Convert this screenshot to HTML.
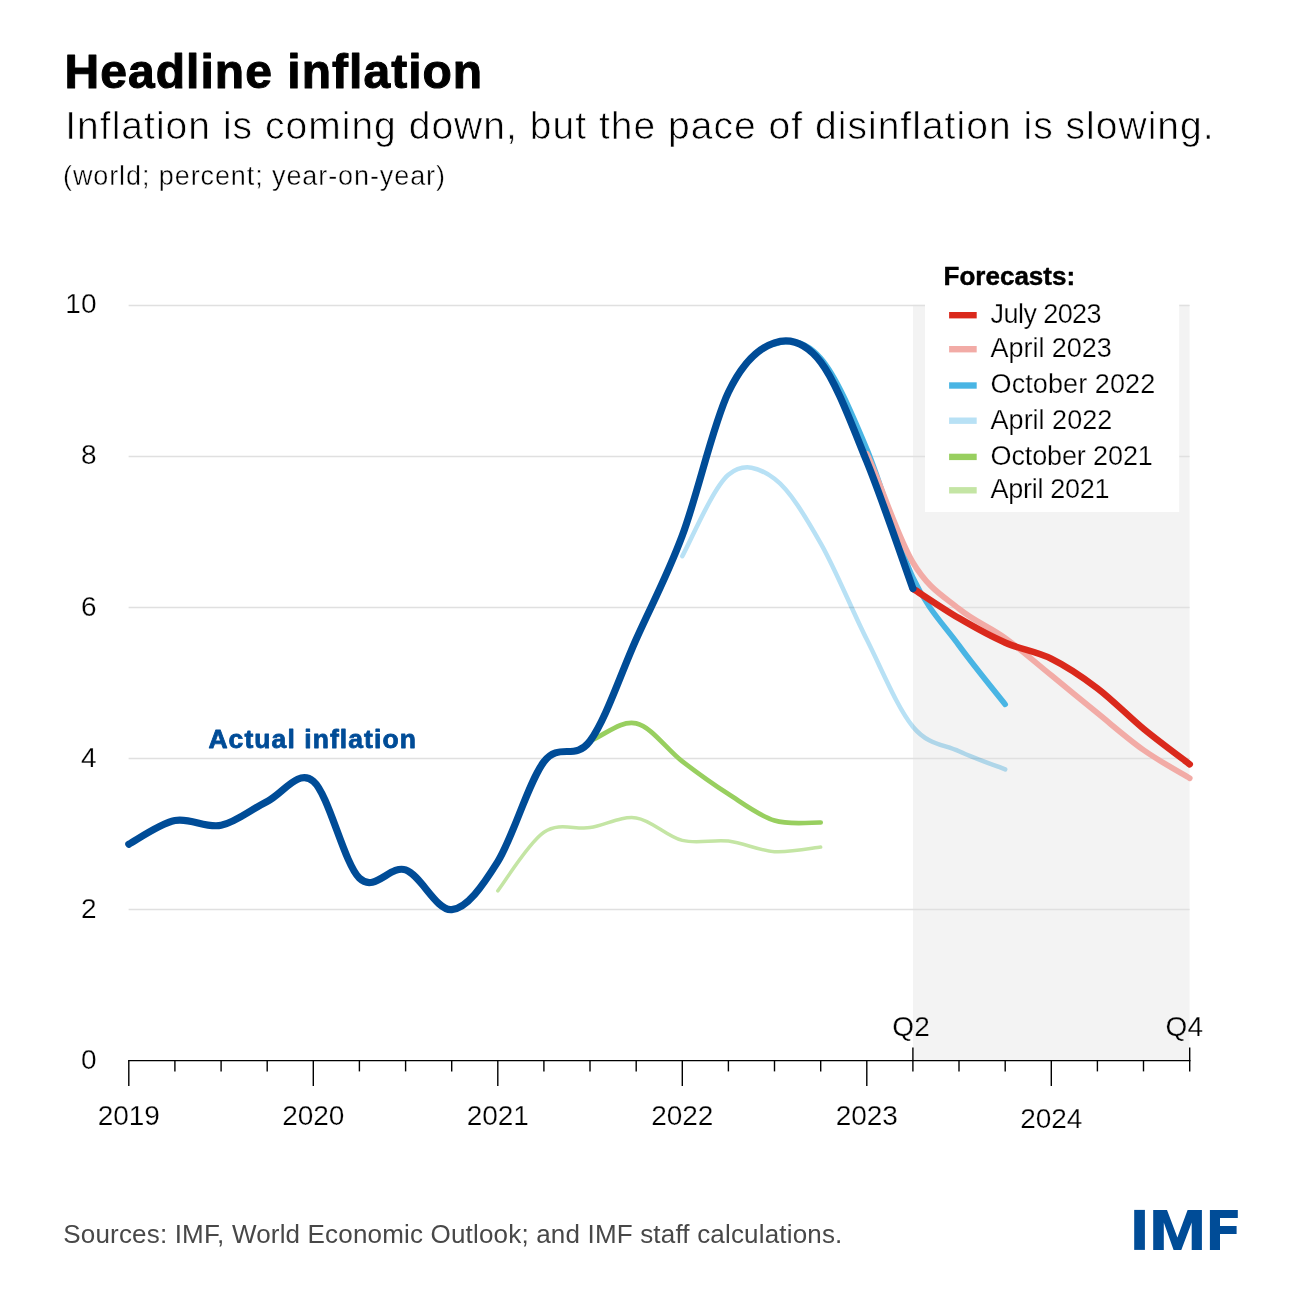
<!DOCTYPE html>
<html><head><meta charset="utf-8"><title>Headline inflation</title>
<style>
html,body{margin:0;padding:0;background:#fff;}
body{width:1300px;height:1300px;overflow:hidden;}
svg{display:block;}
text{font-family:"Liberation Sans",sans-serif;fill:#000;}
.b{font-weight:bold;}
.ax{font-size:28px;}
.lg{font-size:27px;}
.t4{stroke:#fff;stroke-width:0.25px;}
.t5{stroke:#fff;stroke-width:0.4px;}
.t7{stroke:#fff;stroke-width:0.7px;}
.k1{stroke:#000;stroke-width:1px;stroke-linejoin:round;}
.ln{fill:none;stroke-linecap:round;stroke-linejoin:round;}
</style></head><body>
<svg width="1300" height="1300" viewBox="0 0 1300 1300">
<rect width="1300" height="1300" fill="#fff"/>
<rect x="913" y="304.8" width="276.6" height="755.8" fill="#f3f3f3"/>
<line x1="128.6" x2="1189.6" y1="305.4" y2="305.4" stroke="#e0e0e0" stroke-width="1.5"/>
<line x1="128.6" x2="1189.6" y1="456.4" y2="456.4" stroke="#e0e0e0" stroke-width="1.5"/>
<line x1="128.6" x2="1189.6" y1="607.5" y2="607.5" stroke="#e0e0e0" stroke-width="1.5"/>
<line x1="128.6" x2="1189.6" y1="758.5" y2="758.5" stroke="#e0e0e0" stroke-width="1.5"/>
<line x1="128.6" x2="1189.6" y1="909.6" y2="909.6" stroke="#e0e0e0" stroke-width="1.5"/>
<path class="ln" d="M497.8 890.8C505.5 881.0 528.5 842.8 543.9 832.3C559.3 821.8 574.7 830.0 590.0 827.6C605.4 825.2 620.8 815.8 636.2 817.9C651.5 820.0 666.9 836.5 682.3 840.4C697.7 844.3 713.0 839.2 728.4 841.1C743.8 843.0 759.2 850.7 774.5 851.7C789.9 852.7 813.0 847.9 820.7 847.1" stroke="#c4e5a4" stroke-width="3.5"/>
<path class="ln" d="M590.0 741.0C605.4 734.6 620.8 720.0 636.2 723.4C651.5 726.8 666.9 749.6 682.3 761.4C697.7 773.2 713.0 784.2 728.4 794.1C743.8 804.0 759.2 815.9 774.5 820.6C789.9 825.3 813.0 822.2 820.7 822.5" stroke="#98cf5f" stroke-width="4.7"/>
<path class="ln" d="M682.3 556.2C690.0 542.6 713.0 487.7 728.4 474.8C743.8 461.9 759.2 467.4 774.5 478.8C789.9 490.2 805.3 516.5 820.7 543.3C836.0 570.1 851.4 609.0 866.8 639.6C882.2 670.2 897.5 708.1 912.9 726.7C928.3 745.3 943.7 744.2 959.0 751.3C974.4 758.4 997.5 766.4 1005.2 769.4" stroke="#b8e1f5" stroke-width="4.5" style="mix-blend-mode:multiply"/>
<path class="ln" d="M774.5 344.0C789.9 338.3 805.3 340.8 820.7 358.3C836.0 375.8 851.4 412.4 866.8 449.0C882.2 485.6 897.5 544.9 912.9 577.6C928.3 610.4 943.7 624.4 959.0 645.5C974.4 666.6 997.5 694.6 1005.2 704.4" stroke="#49b5e4" stroke-width="5.6"/>
<path class="ln" d="M866.8 453.7C882.2 487.1 897.5 536.6 912.9 562.5C928.3 588.4 943.7 596.2 959.0 608.8C974.4 621.4 989.8 627.0 1005.2 638.1C1020.5 649.2 1035.9 662.8 1051.3 675.3C1066.7 687.8 1082.0 700.6 1097.4 713.1C1112.8 725.6 1128.2 739.1 1143.5 750.0C1158.9 760.9 1182.0 773.5 1189.7 778.2" stroke="#f2aba6" stroke-width="5.8"/>
<path class="ln" d="M912.9 588.6C920.6 593.5 943.7 609.2 959.0 618.2C974.4 627.2 989.8 635.9 1005.2 642.6C1020.5 649.4 1035.9 651.1 1051.3 658.7C1066.7 666.3 1082.0 676.6 1097.4 688.3C1112.8 700.0 1128.2 716.1 1143.5 728.8C1158.9 741.5 1182.0 758.4 1189.7 764.3" stroke="#da291c" stroke-width="6.6"/>
<path class="ln" d="M128.8 844.2C136.5 840.2 159.6 823.6 174.9 820.5C190.3 817.4 205.7 828.5 221.1 825.3C236.4 822.1 251.8 808.8 267.2 801.4C282.6 794.0 297.9 768.4 313.3 781.2C328.7 794.0 344.1 863.4 359.4 878.2C374.8 893.0 390.2 864.7 405.6 869.9C420.9 875.1 436.3 911.0 451.7 909.6C467.1 908.2 482.4 886.2 497.8 861.6C513.2 837.0 528.5 781.9 543.9 761.8C559.3 741.7 574.7 761.4 590.0 741.0C605.4 720.6 620.8 673.5 636.2 639.3C651.5 605.1 666.9 576.8 682.3 535.6C697.7 494.4 713.0 424.4 728.4 392.3C743.8 360.2 759.2 347.9 774.5 342.8C789.9 337.8 805.3 342.2 820.7 362.0C836.0 381.8 851.4 423.7 866.8 461.5C882.2 499.3 905.2 567.4 912.9 588.6" stroke="#004c97" stroke-width="7.2"/>
<rect x="925" y="250" width="254.2" height="262" fill="#fff"/>
<g stroke="#000" stroke-width="1.4" fill="none">
<line x1="128.1" x2="1190.5" y1="1060.6" y2="1060.6"/>
<line x1="128.8" x2="128.8" y1="1060.6" y2="1086.1"/>
<line x1="174.9" x2="174.9" y1="1060.6" y2="1071.4"/>
<line x1="221.1" x2="221.1" y1="1060.6" y2="1071.4"/>
<line x1="267.2" x2="267.2" y1="1060.6" y2="1071.4"/>
<line x1="313.3" x2="313.3" y1="1060.6" y2="1086.1"/>
<line x1="359.4" x2="359.4" y1="1060.6" y2="1071.4"/>
<line x1="405.6" x2="405.6" y1="1060.6" y2="1071.4"/>
<line x1="451.7" x2="451.7" y1="1060.6" y2="1071.4"/>
<line x1="497.8" x2="497.8" y1="1060.6" y2="1086.1"/>
<line x1="543.9" x2="543.9" y1="1060.6" y2="1071.4"/>
<line x1="590.0" x2="590.0" y1="1060.6" y2="1071.4"/>
<line x1="636.2" x2="636.2" y1="1060.6" y2="1071.4"/>
<line x1="682.3" x2="682.3" y1="1060.6" y2="1086.1"/>
<line x1="728.4" x2="728.4" y1="1060.6" y2="1071.4"/>
<line x1="774.5" x2="774.5" y1="1060.6" y2="1071.4"/>
<line x1="820.7" x2="820.7" y1="1060.6" y2="1071.4"/>
<line x1="866.8" x2="866.8" y1="1060.6" y2="1086.1"/>
<line x1="912.9" x2="912.9" y1="1047.6" y2="1071.4"/>
<line x1="959.0" x2="959.0" y1="1060.6" y2="1071.4"/>
<line x1="1005.2" x2="1005.2" y1="1060.6" y2="1071.4"/>
<line x1="1051.3" x2="1051.3" y1="1060.6" y2="1086.1"/>
<line x1="1097.4" x2="1097.4" y1="1060.6" y2="1071.4"/>
<line x1="1143.5" x2="1143.5" y1="1060.6" y2="1071.4"/>
<line x1="1189.7" x2="1189.7" y1="1047.6" y2="1071.4"/>
</g>
<text class="ax t4" x="96.5" y="313.4" text-anchor="end">10</text>
<text class="ax t4" x="96.5" y="464.4" text-anchor="end">8</text>
<text class="ax t4" x="96.5" y="615.5" text-anchor="end">6</text>
<text class="ax t4" x="96.5" y="766.5" text-anchor="end">4</text>
<text class="ax t4" x="96.5" y="917.6" text-anchor="end">2</text>
<text class="ax t4" x="96.5" y="1068.6" text-anchor="end">0</text>
<text class="ax t4" x="128.8" y="1124.6" text-anchor="middle" textLength="62" lengthAdjust="spacing">2019</text>
<text class="ax t4" x="313.3" y="1124.6" text-anchor="middle" textLength="62" lengthAdjust="spacing">2020</text>
<text class="ax t4" x="497.8" y="1124.6" text-anchor="middle" textLength="62" lengthAdjust="spacing">2021</text>
<text class="ax t4" x="682.3" y="1124.6" text-anchor="middle" textLength="62" lengthAdjust="spacing">2022</text>
<text class="ax t4" x="866.8" y="1124.6" text-anchor="middle" textLength="62" lengthAdjust="spacing">2023</text>
<text class="ax t4" x="1051.3" y="1127.6" text-anchor="middle" textLength="62" lengthAdjust="spacing">2024</text>
<text class="ax" x="892.3" y="1036.3" textLength="37.5" lengthAdjust="spacing"><tspan class="t4">Q</tspan><tspan style="stroke:#f3f3f3;stroke-width:0.25px">2</tspan></text>
<text class="ax" x="1165.5" y="1036.3" textLength="37.5" lengthAdjust="spacing"><tspan style="stroke:#f3f3f3;stroke-width:0.25px">Q</tspan><tspan class="t4">4</tspan></text>
<text class="b k1" x="64.6" y="87.7" font-size="48" textLength="417.6" lengthAdjust="spacing">Headline inflation</text>
<text class="t7" x="65.2" y="139.2" font-size="39" textLength="1148.4" lengthAdjust="spacing">Inflation is coming down, but the pace of disinflation is slowing.</text>
<text class="t5" x="63" y="184.6" font-size="27" textLength="382" lengthAdjust="spacing">(world; percent; year-on-year)</text>
<text class="b" x="208.4" y="748.4" font-size="26.5" fill="#004c97" style="fill:#004c97;stroke:#004c97;stroke-width:0.8px;stroke-linejoin:round" textLength="207.5" lengthAdjust="spacing">Actual inflation</text>
<text class="b" style="stroke:#000;stroke-width:0.45px;stroke-linejoin:round" x="943.6" y="285.3" font-size="26" textLength="131.5" lengthAdjust="spacing">Forecasts:</text>
<line x1="949.1" x2="976.7" y1="315.2" y2="315.2" stroke="#da291c" stroke-width="6.4"/>
<text class="lg t4" x="990.6" y="323.0" textLength="111.0" lengthAdjust="spacing">July 2023</text>
<line x1="949.1" x2="976.7" y1="349.2" y2="349.2" stroke="#f2aba6" stroke-width="6.4"/>
<text class="lg t4" x="990.6" y="357.0" textLength="121.2" lengthAdjust="spacing">April 2023</text>
<line x1="949.1" x2="976.7" y1="385.5" y2="385.5" stroke="#49b5e4" stroke-width="6.4"/>
<text class="lg t4" x="990.6" y="393.3" textLength="164.6" lengthAdjust="spacing">October 2022</text>
<line x1="949.1" x2="976.7" y1="420.7" y2="420.7" stroke="#b8e1f5" stroke-width="6.4"/>
<text class="lg t4" x="990.6" y="428.5" textLength="121.6" lengthAdjust="spacing">April 2022</text>
<line x1="949.1" x2="976.7" y1="456.9" y2="456.9" stroke="#98cf5f" stroke-width="6.4"/>
<text class="lg t4" x="990.6" y="464.7" textLength="162.2" lengthAdjust="spacing">October 2021</text>
<line x1="949.1" x2="976.7" y1="490.3" y2="490.3" stroke="#c4e5a4" stroke-width="6.4"/>
<text class="lg t4" x="990.6" y="498.1" textLength="119.0" lengthAdjust="spacing">April 2021</text>
<text x="63.3" y="1242.5" font-size="26" textLength="779" lengthAdjust="spacing" style="fill:#484848">Sources: IMF, World Economic Outlook; and IMF staff calculations.</text>
<g fill="#004c97">
<rect x="1134.2" y="1209.9" width="10.7" height="40"/>
<path d="M1153.2 1249.9V1209.9H1167L1177.4 1237.5L1187.6 1209.9H1201.9V1249.9H1191.7V1222.5L1181.3 1249.9H1173.6L1163.8 1222.5V1249.9Z"/>
<path d="M1209.9 1249.9V1209.9H1237.8V1218.1H1220V1226.1H1236.6V1234.1H1220V1249.9Z"/>
</g>
</svg>
</body></html>
